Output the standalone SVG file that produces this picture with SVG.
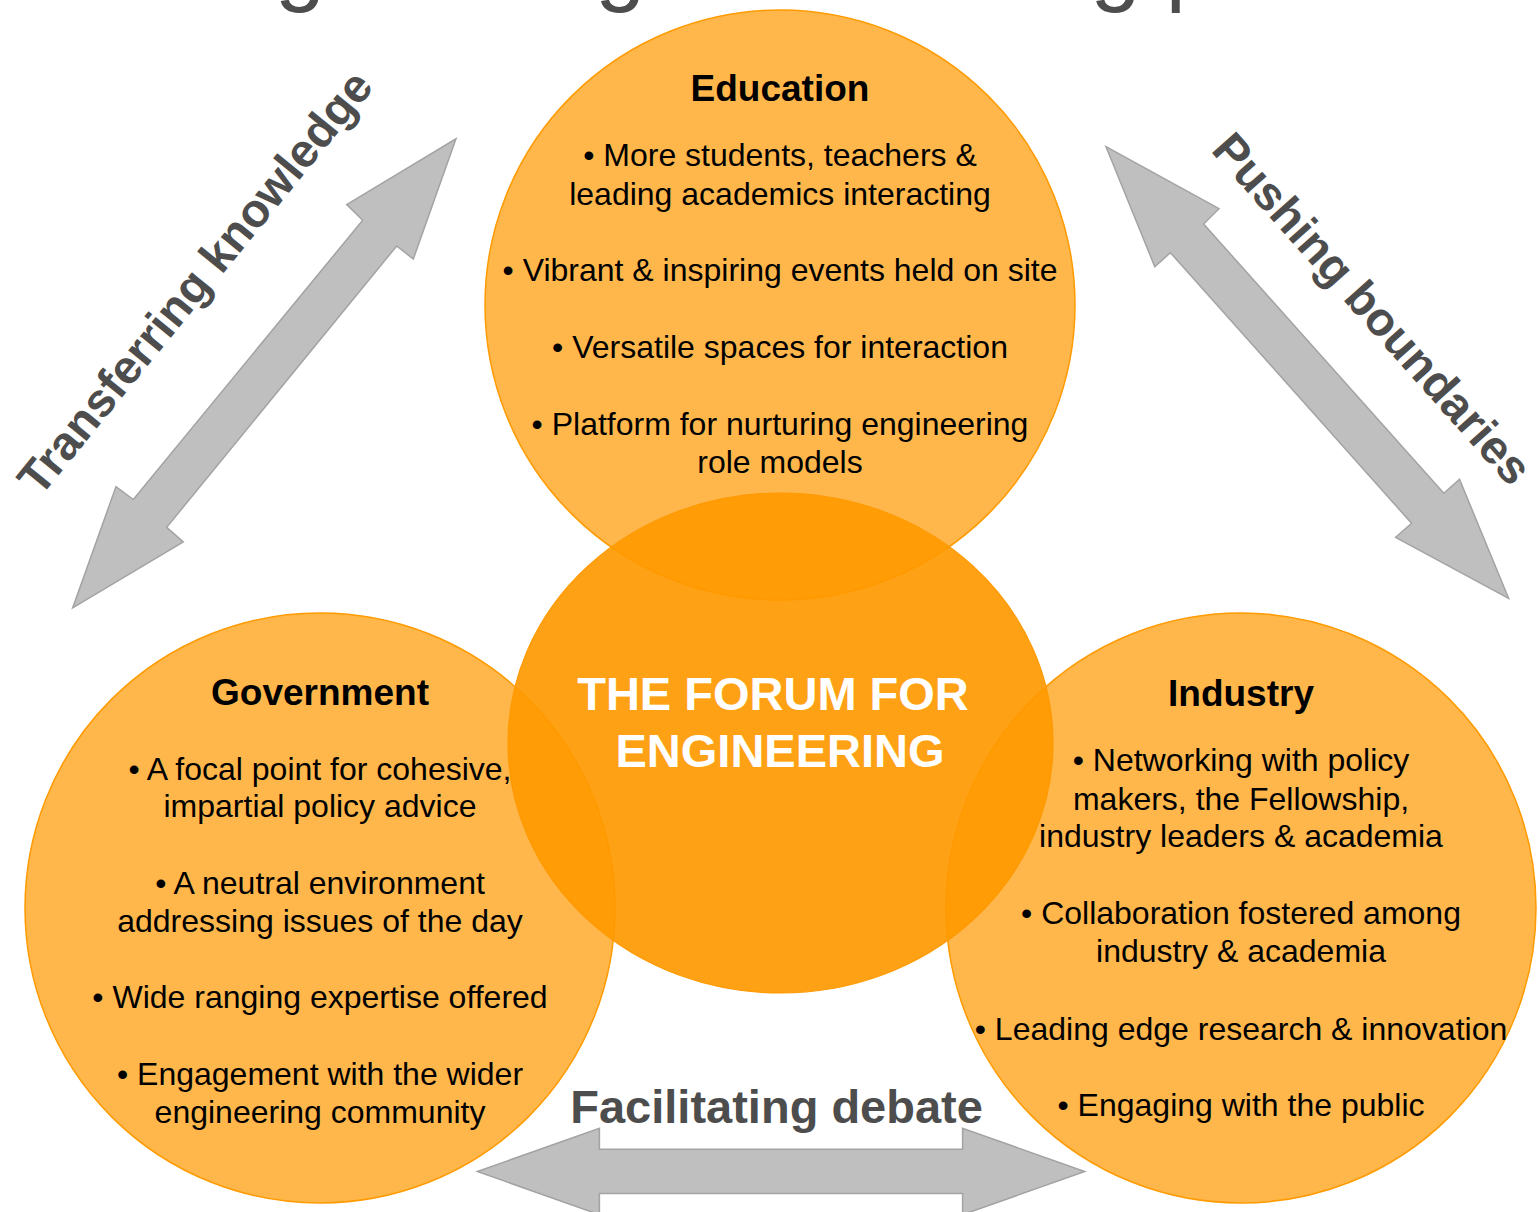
<svg xmlns="http://www.w3.org/2000/svg" width="1538" height="1212" viewBox="0 0 1538 1212">
<style>
text{font-family:"Liberation Sans",Arial,sans-serif}
.ttl{font-size:90px;fill:#4d4d4d}
.lbl{font-size:47px;font-weight:bold;fill:#4d4d4d}
.arrow{fill:#bfbfbf;stroke:#a3a3a3;stroke-width:1.5;stroke-linejoin:miter}
.outer{fill:#ff9900;fill-opacity:0.7;stroke:#ff9a00;stroke-width:1.5}
.core{fill:#ff9900;fill-opacity:0.92;stroke:#ff9900;stroke-width:1.2}
.head{font-size:37px;font-weight:bold;fill:#000;text-anchor:middle}
.bul{font-size:32px;fill:#000;text-anchor:middle}
.ctr{font-size:47px;font-weight:bold;fill:#fff;text-anchor:middle}
</style>
<rect width="1538" height="1212" fill="#fff"/>
<text class="ttl" x="165" y="-6">Engineering the meeting place</text>
<g id="connectors">
<polygon class="arrow" points="456,138.8 413.3,259 396.7,246 166.7,527.3 183.3,542 72.7,607.9 116,486.6 133.3,499.5 362.7,220.2 346.7,204.6"/>
<polygon class="arrow" points="1106,146.7 1219,208.7 1203.6,224 1443.8,493.3 1459.5,479.3 1508.6,598.3 1395.6,537.3 1411.6,523.3 1170.4,252.7 1154.8,266.7"/>
<polygon class="arrow" points="477.4,1171.5 599.4,1128.3 599.4,1149.3 962.6,1149.3 962.6,1128.3 1084.7,1171.5 962.6,1214.7 962.6,1193.5 599.4,1193.5 599.4,1214.7"/>
<text class="lbl" text-anchor="middle" transform="translate(281.1,352.7) rotate(-50.8)" x="0" y="-95">Transferring knowledge</text>
<text class="lbl" text-anchor="middle" transform="translate(1304.3,369.2) rotate(48.3)" x="0" y="-75">Pushing boundaries</text>
<text class="lbl" text-anchor="middle" x="776.6" y="1123">Facilitating debate</text>
</g>
<g id="education"><circle class="outer" cx="780" cy="305" r="295"/></g>
<g id="government"><circle class="outer" cx="320" cy="908" r="295"/></g>
<g id="industry"><circle class="outer" cx="1241" cy="908" r="295"/></g>
<g id="forum"><ellipse class="core" cx="780.5" cy="743" rx="272.5" ry="250"/>
<text class="ctr" x="773" y="710">THE FORUM FOR</text>
<text class="ctr" x="780" y="767">ENGINEERING</text>
</g>
<g id="education-text">
<text class="head" x="780" y="101">Education</text>
<text class="bul" x="780" y="166">• More students, teachers &amp;</text>
<text class="bul" x="780" y="205">leading academics interacting</text>
<text class="bul" x="780" y="281">• Vibrant &amp; inspiring events held on site</text>
<text class="bul" x="780" y="358">• Versatile spaces for interaction</text>
<text class="bul" x="780" y="435">• Platform for nurturing engineering</text>
<text class="bul" x="780" y="473">role models</text>
</g>
<g id="government-text">
<text class="head" x="320" y="705">Government</text>
<text class="bul" x="320" y="780">• A focal point for cohesive,</text>
<text class="bul" x="320" y="817">impartial policy advice</text>
<text class="bul" x="320" y="894">• A neutral environment</text>
<text class="bul" x="320" y="932">addressing issues of the day</text>
<text class="bul" x="320" y="1008">• Wide ranging expertise offered</text>
<text class="bul" x="320" y="1085">• Engagement with the wider</text>
<text class="bul" x="320" y="1123">engineering community</text>
</g>
<g id="industry-text">
<text class="head" x="1241" y="706">Industry</text>
<text class="bul" x="1241" y="771">• Networking with policy</text>
<text class="bul" x="1241" y="810">makers, the Fellowship,</text>
<text class="bul" x="1241" y="847">industry leaders &amp; academia</text>
<text class="bul" x="1241" y="924">• Collaboration fostered among</text>
<text class="bul" x="1241" y="962">industry &amp; academia</text>
<text class="bul" x="1241" y="1040">• Leading edge research &amp; innovation</text>
<text class="bul" x="1241" y="1116">• Engaging with the public</text>
</g>
</svg>
